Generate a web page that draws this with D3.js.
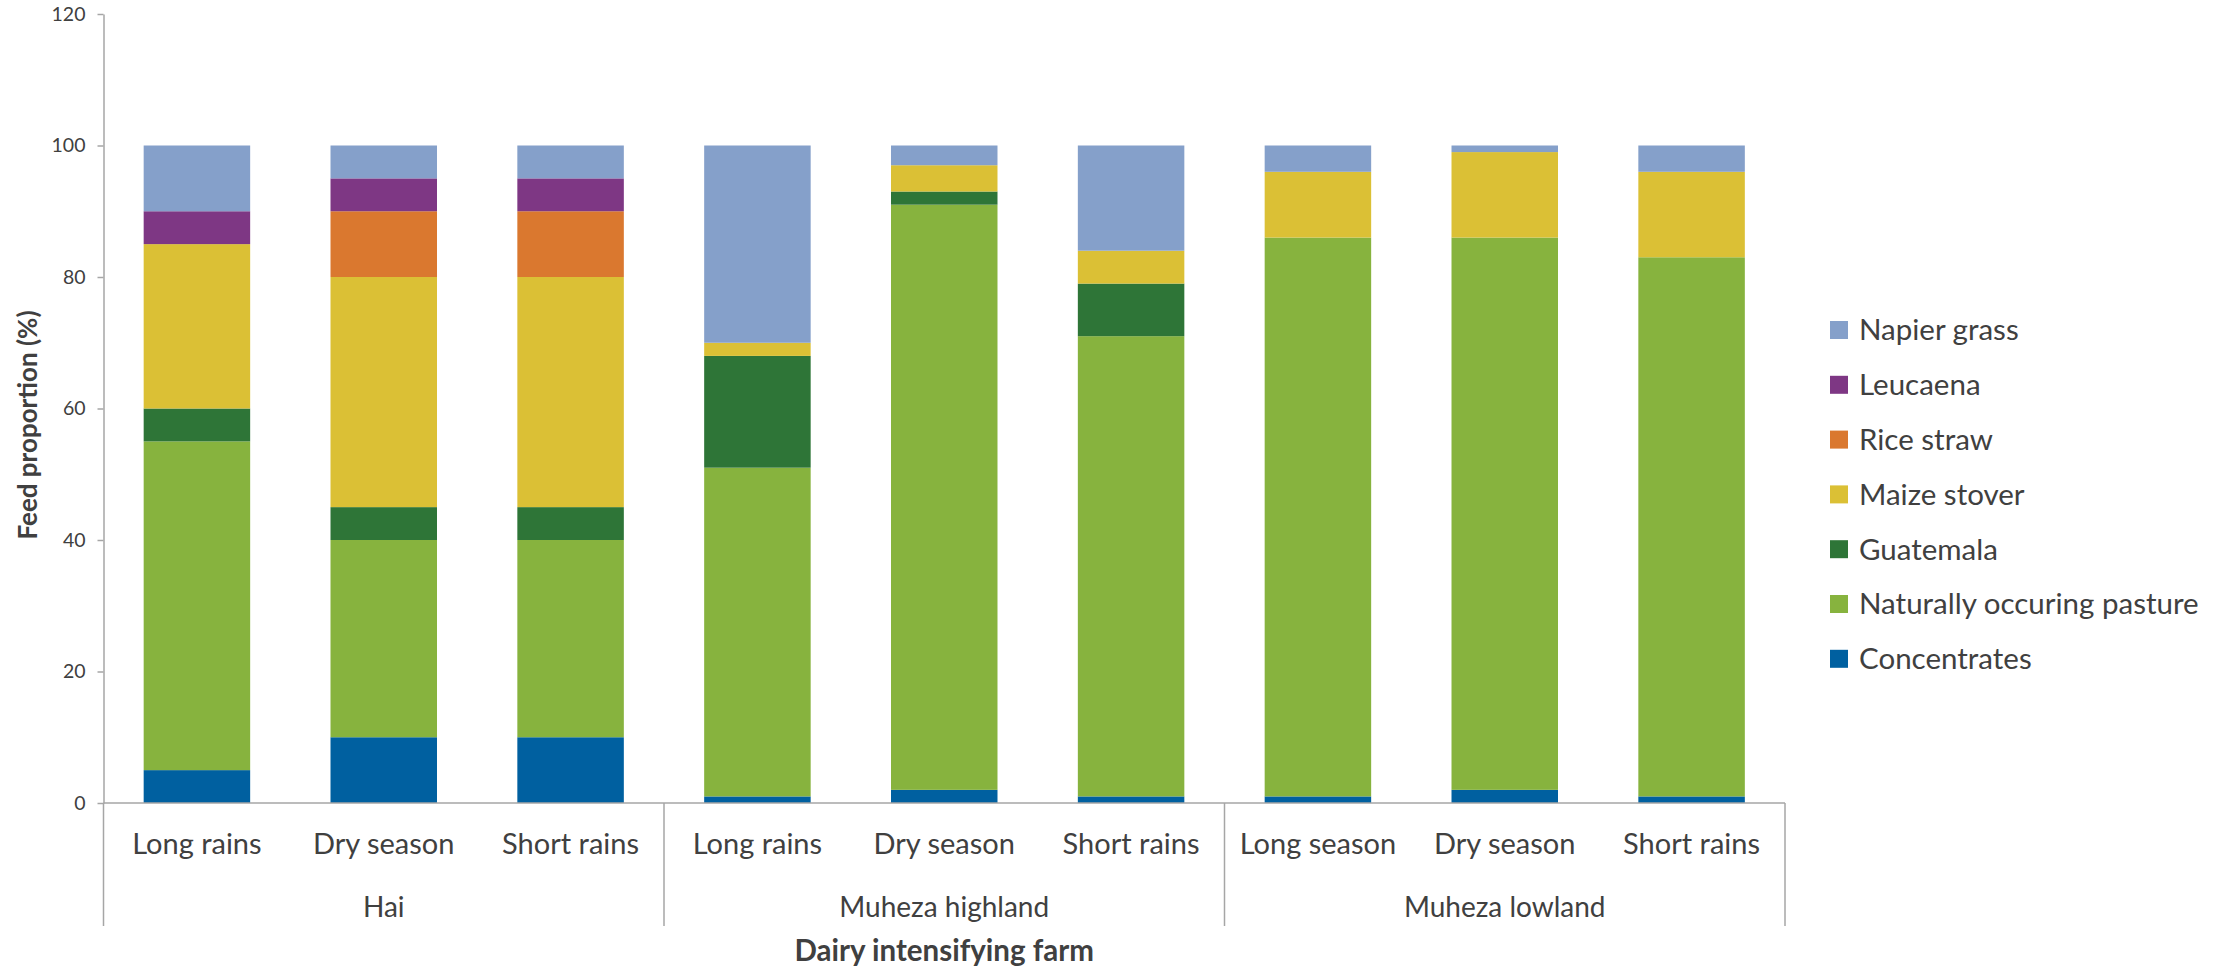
<!DOCTYPE html>
<html>
<head>
<meta charset="utf-8">
<script src="https://cdn.jsdelivr.net/npm/d3@7"></script>
<style>
  body { margin: 0; background: #fff; }
  svg { display: block; font-family: Lato, "Open Sans", sans-serif; }
</style>
</head>
<body>
<div id="chart"></div>
<script>
// categories (seasons) and their region groups
const seasons = ['Long rains', 'Dry season', 'Short rains',
	'Long rains', 'Dry season', 'Short rains',
	'Long season', 'Dry season', 'Short rains'];
const regions = ['Hai', 'Muheza highland', 'Muheza lowland'];

// feed series, bottom to top of each bar
const feeds = ['Concentrates', 'Naturally occuring pasture', 'Guatemala',
	'Maize stover', 'Rice straw', 'Leucaena', 'Napier grass'];
const concentrates = [5, 10, 10, 1, 2, 1, 1, 2, 1];
const pasture = [50, 30, 30, 50, 89, 70, 85, 84, 82];
const guatemala = [5, 5, 5, 17, 2, 8, 0, 0, 0];
const maizeStover = [25, 35, 35, 2, 4, 5, 10, 13, 13];
const riceStraw = [0, 10, 10, 0, 0, 0, 0, 0, 0];
const leucaena = [5, 5, 5, 0, 0, 0, 0, 0, 0];
const napierGrass = [10, 5, 5, 30, 3, 16, 4, 1, 4];
const yTicks = [0, 20, 40, 60, 80, 100, 120];

const colors = ['#0060A0', '#87B33E', '#2E7537', '#DBC035', '#DA782F', '#7E3784', '#85A0CA'];
const seriesValues = [concentrates, pasture, guatemala, maizeStover, riceStraw, leucaena, napierGrass];

const table = seasons.map((s, i) => {
	const row = { idx: i };
	feeds.forEach((f, k) => { row[f] = seriesValues[k][i]; });
	return row;
});

const W = 2223, H = 968;
const mLeft = 103.5, mRight = 1785, mTop = 14, mBottom = 803;
const textColor = '#404040', axisColor = '#a6a6a6';

const svg = d3.select('#chart').append('svg')
	.attr('width', W).attr('height', H);

const x = d3.scaleBand().domain(d3.range(seasons.length))
	.range([mLeft, mRight]).paddingInner(0.43).paddingOuter(0.215);
const y = d3.scaleLinear().domain([0, 120]).range([mBottom, mTop]);
const color = d3.scaleOrdinal().domain(feeds).range(colors);

const stacked = d3.stack().keys(feeds)(table);

svg.append('g').selectAll('g')
	.data(stacked)
	.enter().append('g')
	.attr('fill', d => color(d.key))
	.selectAll('rect')
	.data(d => d)
	.enter().append('rect')
	.attr('x', d => x(d.data.idx))
	.attr('y', d => y(d[1]))
	.attr('width', x.bandwidth())
	.attr('height', d => y(d[0]) - y(d[1]));

// y axis
const yAxis = svg.append('g')
	.attr('transform', 'translate(' + mLeft + ',0)')
	.call(d3.axisLeft(y).tickValues(yTicks).tickSize(6).tickPadding(12).tickSizeOuter(0));
yAxis.select('.domain').attr('stroke', axisColor).attr('stroke-width', 1.5);
yAxis.selectAll('.tick line').attr('stroke', axisColor).attr('stroke-width', 1.5);
yAxis.selectAll('.tick text')
	.attr('fill', textColor).style('font-size', '19.5px').style('font-family', 'Lato, sans-serif');

// x axis line and group separators
const halfGap = x.step() * 0.215;
svg.append('line')
	.attr('x1', mLeft).attr('x2', mRight).attr('y1', mBottom).attr('y2', mBottom)
	.attr('stroke', axisColor).attr('stroke-width', 1.5);
const seps = [mLeft, x(3) - halfGap, x(6) - halfGap, mRight];
svg.append('g').selectAll('line')
	.data(seps)
	.enter().append('line')
	.attr('x1', d => d).attr('x2', d => d)
	.attr('y1', mBottom).attr('y2', 926)
	.attr('stroke', axisColor).attr('stroke-width', 1.5);

// category labels
svg.append('g').selectAll('text')
	.data(seasons)
	.enter().append('text')
	.attr('x', (d, i) => x(i) + x.bandwidth() / 2)
	.attr('y', 854)
	.attr('text-anchor', 'middle')
	.attr('fill', textColor)
	.style('font-size', '29px')
	.text(d => d);

// region labels
svg.append('g').selectAll('text')
	.data(regions)
	.enter().append('text')
	.attr('x', (d, g) => (x(g * 3) + x(g * 3 + 2) + x.bandwidth()) / 2)
	.attr('y', 917)
	.attr('text-anchor', 'middle')
	.attr('fill', textColor)
	.style('font-size', '28px')
	.text(d => d);

// axis titles
svg.append('text')
	.attr('x', (mLeft + mRight) / 2)
	.attr('y', 961)
	.attr('text-anchor', 'middle')
	.attr('fill', textColor)
	.style('font-size', '29.5px').style('font-weight', 'bold')
	.text('Dairy intensifying farm');

svg.append('text')
	.attr('transform', 'translate(37,425) rotate(-90)')
	.attr('text-anchor', 'middle')
	.attr('fill', textColor)
	.style('font-size', '26px').style('font-weight', 'bold')
	.text('Feed proportion (%)');

// legend, top item is the top of the stack
const legendItems = feeds.slice().reverse();
const legend = svg.append('g').selectAll('g')
	.data(legendItems)
	.enter().append('g')
	.attr('transform', (d, i) => 'translate(1830,' + (330 + i * 54.8) + ')');
legend.append('rect')
	.attr('x', 0).attr('y', -9).attr('width', 18).attr('height', 18)
	.attr('fill', d => color(d));
legend.append('text')
	.attr('x', 29).attr('y', 0).attr('dy', '0.35em')
	.attr('fill', textColor)
	.style('font-size', '29.5px')
	.text(d => d);
</script>
</body>
</html>
